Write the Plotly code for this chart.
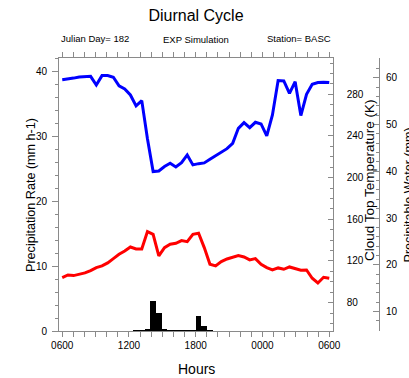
import plotly.graph_objects as go

# ---------------- data ----------------
tick_labels = ["0600", "1200", "1800", "0000", "0600"]
tick_hours = [6, 12, 18, 24, 30]

cloud_top_temp = [294.0, 294.5, 295.5, 296.6, 297.1, 297.2, 288.9, 297.9, 297.9, 296.3,
                  288.0, 285.1, 279.3, 268.8, 273.9, 237.4, 205.8, 206.4, 210.6, 213.8,
                  210.2, 214.4, 221.8, 212.2, 213.4, 214.1, 217.6, 221.1, 224.6, 227.8,
                  232.9, 247.3, 252.8, 248.0, 253.1, 251.5, 240.0, 260.1, 293.1, 292.8,
                  280.9, 292.1, 259.5, 280.0, 289.6, 291.2, 291.5, 291.2]

precip_water = [17.27, 17.84, 17.70, 17.99, 18.27, 18.77, 19.41, 19.77, 20.41, 21.33,
                22.26, 22.97, 23.82, 23.40, 23.40, 27.10, 26.53, 21.90, 23.68, 24.40,
                24.61, 25.18, 24.96, 26.53, 26.75, 23.68, 20.12, 19.77, 20.69, 21.26,
                21.62, 21.97, 21.69, 21.05, 21.33, 20.12, 19.41, 18.91, 19.34, 19.05,
                19.55, 19.19, 18.84, 18.91, 17.13, 16.13, 17.34, 17.13]

precip_rate = [0, 0, 0, 0, 0, 0, 0, 0, 0, 0,
               0, 0, 0, 0.02, 0.1, 0.25, 4.55, 2.75, 0.3, 0.03,
               0.05, 0.1, 0.1, 0.1, 2.35, 0.7, 0.03, 0, 0, 0,
               0, 0, 0, 0, 0, 0, 0, 0, 0, 0,
               0, 0, 0, 0, 0, 0, 0, 0]

n = len(cloud_top_temp)
hours = [6 + 24 * i / (n - 1) for i in range(n)]

FONT = "Liberation Sans, Arial, Helvetica, sans-serif"
AX = "#8a8a8a"

# plot-area pixel geometry (for placing text)
L, T, PW_, PH_ = 59, 58, 320, 273


def px_x(px):
    return (px - L) / PW_


def px_y(py):
    return (T + PH_ - py) / PH_


fig = go.Figure()
fig.add_trace(go.Bar(x=hours, y=precip_rate, marker=dict(color="black", line=dict(width=0)),
                     xaxis="x", yaxis="y", showlegend=False))
fig.add_trace(go.Scatter(x=hours, y=cloud_top_temp, mode="lines",
                         line=dict(color="#0000ff", width=3), xaxis="x", yaxis="y2",
                         showlegend=False))
fig.add_trace(go.Scatter(x=hours, y=precip_water, mode="lines",
                         line=dict(color="#ff0000", width=3), xaxis="x", yaxis="y3",
                         showlegend=False))

dom_end = px_x(332.7)

fig.update_layout(
    width=409, height=378,
    margin=dict(l=L, r=409 - L - PW_, t=T, b=378 - T - PH_, autoexpand=False),
    paper_bgcolor="white", plot_bgcolor="white",
    font=dict(family=FONT, color="black", size=10),
    bargap=0,
    title=dict(text="Diurnal Cycle", x=196 / 409, xanchor="center",
               y=1 - 15 / 378, yanchor="middle", font=dict(size=16)),
    xaxis=dict(domain=[0, dom_end], range=[5.71, 30.31],
               tickmode="array", tickvals=tick_hours, ticktext=tick_labels,
               ticks="outside", ticklen=5, tickcolor=AX, showline=True, linecolor=AX,
               linewidth=1, mirror="allticks", showgrid=False, zeroline=False,
               minor=dict(tickmode="linear", tick0=6, dtick=1, ticks="outside",
                          ticklen=3, tickcolor=AX),
               tickfont=dict(size=10)),
    yaxis=dict(range=[0, 42], tickmode="linear", tick0=0, dtick=10,
               ticks="outside", ticklen=6, tickcolor=AX, showline=True, linecolor=AX,
               linewidth=1, showgrid=False, zeroline=False,
               minor=dict(tickmode="linear", tick0=0, dtick=2, ticks="outside",
                          ticklen=3, tickcolor=AX),
               tickfont=dict(size=10), ticklabelstandoff=3),
    yaxis2=dict(overlaying="y", anchor="x", side="right", range=[52.8, 314.8],
                tickmode="linear", tick0=80, dtick=40,
                ticks="inside", ticklen=5, tickcolor=AX, showline=True, linecolor=AX,
                linewidth=1, showgrid=False, zeroline=False,
                minor=dict(tickmode="linear", tick0=80, dtick=10, ticks="inside",
                           ticklen=3, tickcolor=AX),
                tickfont=dict(size=10), ticklabelstandoff=11),
    yaxis3=dict(overlaying="y", anchor="free", position=1.0, side="right",
                range=[5.86, 64.2], tickmode="linear", tick0=10, dtick=10,
                ticks="inside", ticklen=6, tickcolor=AX, showline=True, linecolor=AX,
                linewidth=1, showgrid=False, zeroline=False,
                minor=dict(tickmode="linear", tick0=10, dtick=2, ticks="inside",
                           ticklen=3, tickcolor=AX),
                tickfont=dict(size=10), ticklabelstandoff=4),
    annotations=[
        dict(text="Julian Day= 182", x=0, y=px_y(38), xref="paper", yref="paper",
             xanchor="left", yanchor="middle", showarrow=False, font=dict(size=9.5)),
        dict(text="EXP Simulation", x=px_x(196), y=px_y(39), xref="paper", yref="paper",
             xanchor="center", yanchor="middle", showarrow=False, font=dict(size=9.5)),
        dict(text="Station= BASC", x=dom_end, y=px_y(38), xref="paper", yref="paper",
             xanchor="right", yanchor="middle", showarrow=False, font=dict(size=9.5)),
        dict(text="Hours", x=px_x(196), y=px_y(369), xref="paper", yref="paper",
             xanchor="center", yanchor="middle", showarrow=False, font=dict(size=14)),
        dict(text="Precipitation Rate (mm h-1)", x=px_x(31), y=px_y(195),
             xref="paper", yref="paper", xanchor="center", yanchor="middle",
             textangle=-90, showarrow=False, font=dict(size=12.6)),
        dict(text="Cloud Top Temperature (K)", x=px_x(369), y=px_y(180),
             xref="paper", yref="paper", xanchor="center", yanchor="middle",
             textangle=-90, showarrow=False, font=dict(size=13.5)),
        # in the reference this title runs off the right edge of the figure
        dict(text="Precipitable Water (mm)", x=px_x(408.5), y=px_y(195),
             xref="paper", yref="paper", xanchor="center", yanchor="middle",
             textangle=-90, showarrow=False, font=dict(size=12.6)),
    ],
)

fig.write_html("out.html")
